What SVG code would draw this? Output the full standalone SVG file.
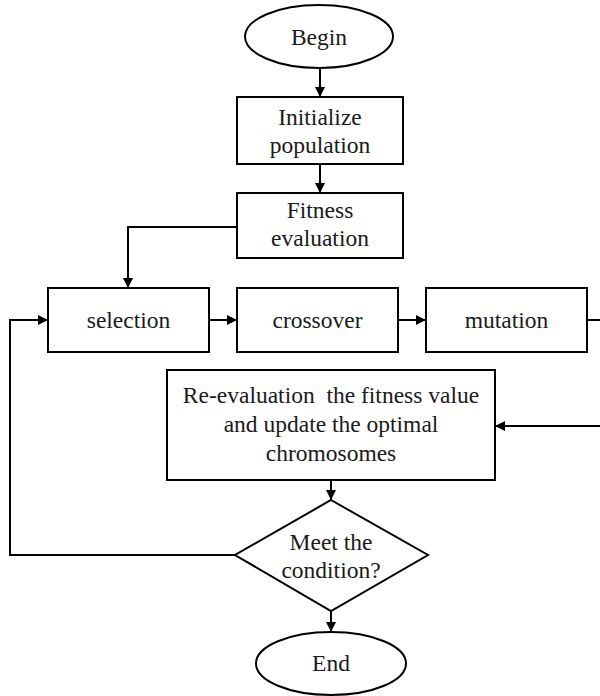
<svg xmlns="http://www.w3.org/2000/svg" width="600" height="696" viewBox="0 0 600 696">
  <style>
    .shape { fill: #ffffff; stroke: #000000; stroke-width: 2; }
    .label { font-family: "Liberation Serif", "Times New Roman", serif; font-size: 23.5px; fill: #1a1a1a; text-anchor: middle; }
    .wire { fill: none; stroke: #000000; stroke-width: 2; }
  </style>
  <defs>
    <marker id="arrow" viewBox="0 0 10 10" refX="10" refY="5" markerWidth="10" markerHeight="10" markerUnits="userSpaceOnUse" orient="auto">
      <path d="M0,0 L10,5 L0,10 Z" fill="#000000"/>
    </marker>
  </defs>
  <rect width="600" height="696" fill="#ffffff"/>

  <!-- flow connectors -->
  <g id="connectors">
    <path class="wire" d="M320,68 V97" marker-end="url(#arrow)"/>
    <path class="wire" d="M320,164 V193" marker-end="url(#arrow)"/>
    <path class="wire" d="M237,227 H128 V288" marker-end="url(#arrow)"/>
    <path class="wire" d="M209,320 H237" marker-end="url(#arrow)"/>
    <path class="wire" d="M398,320 H426" marker-end="url(#arrow)"/>
    <path class="wire" d="M587,320 H606 V426 H495" marker-end="url(#arrow)"/>
    <path class="wire" d="M331,480 V500" marker-end="url(#arrow)"/>
    <path class="wire" d="M235,555 H10 V320 H48" marker-end="url(#arrow)"/>
    <path class="wire" d="M331,611 V632" marker-end="url(#arrow)"/>
  </g>

  <g id="begin">
    <ellipse class="shape" cx="319" cy="36.5" rx="74" ry="31.5"/>
    <text class="label" x="319" y="45">Begin</text>
  </g>

  <g id="initialize">
    <rect class="shape" x="237" y="97" width="166" height="67"/>
    <text class="label" x="320" y="125">Initialize</text>
    <text class="label" x="320" y="153">population</text>
  </g>

  <g id="fitness">
    <rect class="shape" x="237" y="193" width="166" height="65"/>
    <text class="label" x="320" y="218">Fitness</text>
    <text class="label" x="320" y="246">evaluation</text>
  </g>

  <g id="selection">
    <rect class="shape" x="48" y="288" width="161" height="64"/>
    <text class="label" x="128.5" y="328">selection</text>
  </g>

  <g id="crossover">
    <rect class="shape" x="237" y="288" width="161" height="64"/>
    <text class="label" x="317.5" y="328">crossover</text>
  </g>

  <g id="mutation">
    <rect class="shape" x="426" y="288" width="161" height="64"/>
    <text class="label" x="506.5" y="328">mutation</text>
  </g>

  <g id="reevaluation">
    <rect class="shape" x="167" y="370" width="328" height="110"/>
    <text class="label" x="331" y="403" xml:space="preserve">Re-evaluation  the fitness value</text>
    <text class="label" x="331" y="432">and update the optimal</text>
    <text class="label" x="331" y="461">chromosomes</text>
  </g>

  <g id="condition">
    <polygon class="shape" points="331,500 428,555 331,611 235,555"/>
    <text class="label" x="331" y="550">Meet the</text>
    <text class="label" x="331" y="578">condition?</text>
  </g>

  <g id="end">
    <ellipse class="shape" cx="331" cy="663.5" rx="75" ry="31.5"/>
    <text class="label" x="331" y="671">End</text>
  </g>
</svg>
